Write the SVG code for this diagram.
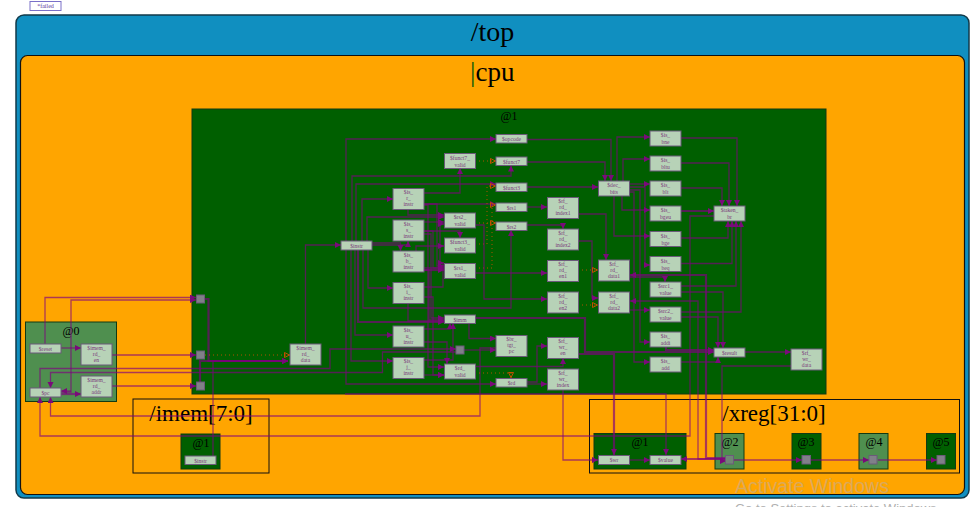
<svg xmlns="http://www.w3.org/2000/svg" width="976" height="507" viewBox="0 0 976 507">
<style>
text{font-family:"Liberation Serif","Times New Roman",serif;fill:#000}
.n rect{fill:#b7d2b7;stroke:#6b5a7a;stroke-width:1}
.n text{font-size:5.600px;fill:#7b3b7b;text-anchor:middle}
.g rect{fill:#808088;stroke:#6b5a7a;stroke-width:1}
.p{stroke:#123a12;stroke-width:1}
.l{text-anchor:middle}
#wires path{fill:none;stroke:#800080;stroke-opacity:.66;stroke-width:1.300;marker-end:url(#a)}
#wires path.t{stroke-width:2.200}
#wires path.d{stroke:#c05000;stroke-opacity:.9;stroke-width:1;stroke-dasharray:1 3;marker-end:url(#h)}
</style>
<defs>
<marker id="a" markerUnits="userSpaceOnUse" markerWidth="7" markerHeight="7" refX="6" refY="3" orient="auto"><path d="M0 0L6 3L0 6z" fill="#7a0a7a" stroke="none"/></marker>
<marker id="h" markerUnits="userSpaceOnUse" markerWidth="7" markerHeight="7" refX="6" refY="3" orient="auto"><path d="M.5 .5L5.500 3L.5 5.500z" fill="none" stroke="#c05000" stroke-width="1"/></marker>
</defs>
<rect width="976" height="507" fill="#fff"/>
<g id="failed"><rect x="30" y="1.500" width="31" height="9" fill="#fff" stroke="#7a70c8"/><text x="45.500" y="8" font-size="6" text-anchor="middle" style="fill:#5a3aa0">*failed</text></g>
<g id="scope-top"><rect x="16" y="15" width="953" height="483" rx="8" fill="#108fc0" stroke="#123a4a" stroke-width="1.500"/><text class="l" x="492.500" y="41" font-size="28">/top</text></g>
<g id="scope-cpu"><rect x="20.500" y="55.500" width="944" height="439" rx="7" fill="#ffa500" stroke="#111" stroke-width="1.200"/><text x="470" y="81" font-size="27"><tspan style="fill:#0a5a0a">|</tspan>cpu</text></g>
<g id="stage-1"><rect class="p" x="192" y="109" width="634" height="285" fill="#005f00"/><text class="l" x="509" y="120" font-size="12">@1</text></g>
<g id="stage-0"><rect class="p" x="25.500" y="322" width="91" height="79.500" fill="#4f8f4f"/><text class="l" x="71" y="335" font-size="12">@0</text></g>
<g id="imem"><rect x="133" y="399" width="136" height="74" fill="none" stroke="#111"/><text class="l" x="201" y="421" font-size="23">/imem[7:0]</text><rect class="p" x="181" y="434" width="39" height="35" fill="#005f00"/><text class="l" x="201" y="447" font-size="12">@1</text></g>
<g id="xreg"><rect x="589.500" y="399.500" width="370" height="73.500" fill="none" stroke="#111"/><text class="l" x="774" y="421" font-size="23">/xreg[31:0]</text>
<rect class="p" x="594" y="433.500" width="92" height="35.500" fill="#005f00"/><text class="l" x="640" y="446" font-size="12">@1</text>
<rect class="p" x="715" y="433.500" width="29" height="35.500" fill="#4f8f4f"/><text class="l" x="730" y="446" font-size="12">@2</text>
<rect class="p" x="792" y="433.500" width="29" height="35.500" fill="#005f00"/><text class="l" x="806" y="446" font-size="12">@3</text>
<rect class="p" x="859" y="433.500" width="29" height="35.500" fill="#4f8f4f"/><text class="l" x="874" y="446" font-size="12">@4</text>
<rect class="p" x="926.500" y="433.500" width="29" height="35.500" fill="#005f00"/><text class="l" x="941" y="446" font-size="12">@5</text></g>
<g id="wires">
<path d="M45 344V297.500H196"/><path d="M61 392H71V300H196"/><path d="M61 348H81"/><path d="M61 394H81" class="t"/><path d="M71 391H61"/>
<path d="M112 355H196"/><path d="M112 386H196"/><path d="M205 299H208.500V361H288" class="t"/><path d="M200 382V361H288" class="t"/><path d="M213 456V361H288"/>
<path d="M205 355H290" class="d"/>
<path d="M40 388V368.500H330V349H456"/><path d="M456 352H382.500V372.500H50.500V388"/><path d="M496 348H480V416H50.500V397"/><path d="M714 216H690V436H40V397"/>
<path d="M305.500 344V245H341"/>
<path d="M346 241V139H496"/><path d="M352 241V176H511V165.500"/><path d="M356 241V184H496"/><path d="M362 241V199H393"/><path d="M367 241V217H444"/>
<path d="M372 243H400.500V251"/><path d="M372 245H408V241"/>
<path d="M368 250V288H393"/><path d="M355 250V335H393"/><path d="M351 250V361H393"/><path d="M363 250V308H511V230"/><path d="M346 250V384H496"/><path d="M358 250V322H444" class="t"/>
<path d="M424 204H496"/><path d="M424 193H460V168"/><path d="M408 210V215H444"/>
<path d="M424 204H437V266H444"/><path d="M424 205H428V367H444"/><path d="M424 222H444"/><path d="M424 231H460V238"/><path d="M424 231H433V268H444"/><path d="M424 234H431V318H444"/>
<path d="M424 268H440V224H444"/><path d="M424 270H444" class="t"/><path d="M424 270H429V320H444"/><path d="M416 251V246H444"/>
<path d="M424 287H443V263H444"/><path d="M424 297H433V375H444"/><path d="M408 303V321H444"/>
<path d="M424 329H450V323"/><path d="M424 360H453V323"/><path d="M424 342H447V364"/><path d="M424 375H444"/>
<path d="M469 323V338.500H496"/><path d="M464 350H496"/><path d="M475 366.500H563V358"/><path d="M527 382H537V346H547"/><path d="M527 384H547"/>
<path d="M475 161H496" class="d"/><path d="M475 223H496" class="d"/><path d="M475 244H487V186H496" class="d"/><path d="M475 268H492V205H496" class="d"/><path d="M475 373H511V378" class="d"/>
<path d="M527 207H547"/><path d="M527 225H563V229"/><path d="M475 273H547"/><path d="M475 225H484V299H547"/>
<path d="M527 139.500H611V181"/><path d="M527 162H605V181"/><path d="M527 187H598"/>
<path d="M617 181V137H650"/><path d="M623 181V159H650"/><path d="M629 184H650"/><path d="M622 196V210H650"/><path d="M614 196V236H650"/><path d="M629 187H645V265H650"/><path d="M629 190H640V342H650"/><path d="M629 192H634V362H650"/>
<path d="M578 214H606V260"/><path d="M578 241H592V298H598"/><path d="M578 270H598" class="d"/><path d="M578 305H598" class="d"/>
<path d="M629 277H665V282"/><path d="M629 310H650"/>
<path d="M681 138H737V206"/><path d="M681 163H729V206"/><path d="M681 188H722V206"/><path d="M681 211H714" class="t"/><path d="M681 238H728V221"/><path d="M681 263.500H732V221"/><path d="M681 286H736V221"/><path d="M681 312H741V221"/>
<path d="M681 292H723V348"/><path d="M681 317H718V348"/><path d="M666 347V350H714" class="t"/><path d="M475 318H585V352H714" class="t"/><path d="M681 362H718V357"/><path d="M745 352H791"/>
<path d="M578 354H614V455" class="t"/><path d="M563 390V460H598"/><path d="M345 394H666V455"/>
<path d="M791 366H722V461H726"/><path d="M726 458H706V275H630" class="t"/><path d="M726 459H698V301H630"/><path d="M726 459H681" class="t"/>
<path d="M630 460H650"/><path d="M734 460H802"/><path d="M811 460H869"/><path d="M878 460H937"/>
</g>
<g id="n-reset" class="n"><rect x="30" y="344" width="31" height="9"/><text x="45.500" y="350.500">$reset</text></g>
<g id="n-imem-rd-en" class="n"><rect x="81" y="344" width="31" height="21"/><text><tspan x="96.500" y="349.500">$imem_</tspan><tspan x="96.500" y="355.500">rd_</tspan><tspan x="96.500" y="361.500">en</tspan></text></g>
<g id="n-imem-rd-addr" class="n"><rect x="81" y="376" width="31" height="21"/><text><tspan x="96.500" y="381.500">$imem_</tspan><tspan x="96.500" y="387.500">rd_</tspan><tspan x="96.500" y="393.500">addr</tspan></text></g>
<g id="n-pc" class="n"><rect x="30" y="388" width="31" height="9"/><text x="45.500" y="394.500">$pc</text></g>
<g id="n-imem-rd-data" class="n"><rect x="290" y="344" width="31" height="21"/><text><tspan x="305.500" y="349.500">$imem_</tspan><tspan x="305.500" y="355.500">rd_</tspan><tspan x="305.500" y="361.500">data</tspan></text></g>
<g id="g1" class="g"><rect x="196.500" y="295" width="8" height="8"/></g>
<g id="g2" class="g"><rect x="196.500" y="351" width="8" height="8"/></g>
<g id="g3" class="g"><rect x="196.500" y="382" width="8" height="8"/></g>
<g id="g4" class="g"><rect x="456" y="346" width="8" height="8"/></g>
<g id="n-instr" class="n"><rect x="341" y="241" width="31" height="9"/><text x="356.500" y="247.500">$instr</text></g>
<g id="n-opcode" class="n"><rect x="496" y="134.500" width="31" height="8.500"/><text x="511.500" y="141">$opcode</text></g>
<g id="n-funct7" class="n"><rect x="496" y="157" width="31" height="8.500"/><text x="511.500" y="163.500">$funct7</text></g>
<g id="n-funct3" class="n"><rect x="496" y="183" width="31" height="8.500"/><text x="511.500" y="189.500">$funct3</text></g>
<g id="n-rs1" class="n"><rect x="496" y="203" width="31" height="8.500"/><text x="511.500" y="209.500">$rs1</text></g>
<g id="n-rs2" class="n"><rect x="496" y="222" width="31" height="8.500"/><text x="511.500" y="228.500">$rs2</text></g>
<g id="n-rd" class="n"><rect x="496" y="378.500" width="31" height="8.500"/><text x="511.500" y="385">$rd</text></g>
<g id="n-funct7-valid" class="n"><rect x="444.500" y="153.500" width="31" height="15"/><text><tspan x="460" y="159.500">$funct7_</tspan><tspan x="460" y="166.500">valid</tspan></text></g>
<g id="n-rs2-valid" class="n"><rect x="444.500" y="213" width="31" height="15"/><text><tspan x="460" y="219">$rs2_</tspan><tspan x="460" y="226">valid</tspan></text></g>
<g id="n-funct3-valid" class="n"><rect x="444.500" y="238" width="31" height="15"/><text><tspan x="460" y="244">$funct3_</tspan><tspan x="460" y="251">valid</tspan></text></g>
<g id="n-rs1-valid" class="n"><rect x="444.500" y="263.500" width="31" height="15"/><text><tspan x="460" y="269.500">$rs1_</tspan><tspan x="460" y="276.500">valid</tspan></text></g>
<g id="n-rd-valid" class="n"><rect x="444.500" y="364" width="31" height="15"/><text><tspan x="460" y="370">$rd_</tspan><tspan x="460" y="377">valid</tspan></text></g>
<g id="n-imm" class="n"><rect x="444.500" y="315" width="31" height="8.500"/><text x="460" y="321.500">$imm</text></g>
<g id="n-is-r" class="n"><rect x="393" y="188.500" width="31" height="21"/><text><tspan x="408.500" y="194">$is_</tspan><tspan x="408.500" y="200">r_</tspan><tspan x="408.500" y="206">instr</tspan></text></g>
<g id="n-is-s" class="n"><rect x="393" y="220" width="31" height="21"/><text><tspan x="408.500" y="225.500">$is_</tspan><tspan x="408.500" y="231.500">s_</tspan><tspan x="408.500" y="237.500">instr</tspan></text></g>
<g id="n-is-b" class="n"><rect x="393" y="251" width="31" height="21"/><text><tspan x="408.500" y="256.500">$is_</tspan><tspan x="408.500" y="262.500">b_</tspan><tspan x="408.500" y="268.500">instr</tspan></text></g>
<g id="n-is-i" class="n"><rect x="393" y="282.500" width="31" height="21"/><text><tspan x="408.500" y="288">$is_</tspan><tspan x="408.500" y="294">i_</tspan><tspan x="408.500" y="300">instr</tspan></text></g>
<g id="n-is-u" class="n"><rect x="393" y="326" width="31" height="21"/><text><tspan x="408.500" y="331.500">$is_</tspan><tspan x="408.500" y="337.500">u_</tspan><tspan x="408.500" y="343.500">instr</tspan></text></g>
<g id="n-is-j" class="n"><rect x="393" y="357.500" width="31" height="21"/><text><tspan x="408.500" y="363">$is_</tspan><tspan x="408.500" y="369">j_</tspan><tspan x="408.500" y="375">instr</tspan></text></g>
<g id="n-br-tgt-pc" class="n"><rect x="496" y="335.500" width="31" height="21"/><text><tspan x="511.500" y="341">$br_</tspan><tspan x="511.500" y="347">tgt_</tspan><tspan x="511.500" y="353">pc</tspan></text></g>
<g id="n-rf-rd-index1" class="n"><rect x="547.500" y="197.500" width="31" height="21"/><text><tspan x="563" y="203">$rf_</tspan><tspan x="563" y="209">rd_</tspan><tspan x="563" y="215">index1</tspan></text></g>
<g id="n-rf-rd-index2" class="n"><rect x="547.500" y="229" width="31" height="21"/><text><tspan x="563" y="234.500">$rf_</tspan><tspan x="563" y="240.500">rd_</tspan><tspan x="563" y="246.500">index2</tspan></text></g>
<g id="n-rf-rd-en1" class="n"><rect x="547.500" y="260.500" width="31" height="21"/><text><tspan x="563" y="266">$rf_</tspan><tspan x="563" y="272">rd_</tspan><tspan x="563" y="278">en1</tspan></text></g>
<g id="n-rf-rd-en2" class="n"><rect x="547.500" y="292" width="31" height="21"/><text><tspan x="563" y="297.500">$rf_</tspan><tspan x="563" y="303.500">rd_</tspan><tspan x="563" y="309.500">en2</tspan></text></g>
<g id="n-rf-wr-en" class="n"><rect x="547.500" y="337.500" width="31" height="21"/><text><tspan x="563" y="343">$rf_</tspan><tspan x="563" y="349">wr_</tspan><tspan x="563" y="355">en</tspan></text></g>
<g id="n-rf-wr-index" class="n"><rect x="547.500" y="369" width="31" height="21"/><text><tspan x="563" y="374.500">$rf_</tspan><tspan x="563" y="380.500">wr_</tspan><tspan x="563" y="386.500">index</tspan></text></g>
<g id="n-dec-bits" class="n"><rect x="598.500" y="181" width="31" height="15"/><text><tspan x="614" y="187">$dec_</tspan><tspan x="614" y="194">bits</tspan></text></g>
<g id="n-rf-rd-data1" class="n"><rect x="598.500" y="260" width="31" height="21"/><text><tspan x="614" y="265.500">$rf_</tspan><tspan x="614" y="271.500">rd_</tspan><tspan x="614" y="277.500">data1</tspan></text></g>
<g id="n-rf-rd-data2" class="n"><rect x="598.500" y="292" width="31" height="21"/><text><tspan x="614" y="297.500">$rf_</tspan><tspan x="614" y="303.500">rd_</tspan><tspan x="614" y="309.500">data2</tspan></text></g>
<g id="n-is-bne" class="n"><rect x="650" y="131" width="31" height="15"/><text><tspan x="665.500" y="137">$is_</tspan><tspan x="665.500" y="144">bne</tspan></text></g>
<g id="n-is-bltu" class="n"><rect x="650" y="156" width="31" height="15"/><text><tspan x="665.500" y="162">$is_</tspan><tspan x="665.500" y="169">bltu</tspan></text></g>
<g id="n-is-blt" class="n"><rect x="650" y="181" width="31" height="15"/><text><tspan x="665.500" y="187">$is_</tspan><tspan x="665.500" y="194">blt</tspan></text></g>
<g id="n-is-bgeu" class="n"><rect x="650" y="206" width="31" height="15"/><text><tspan x="665.500" y="212">$is_</tspan><tspan x="665.500" y="219">bgeu</tspan></text></g>
<g id="n-is-bge" class="n"><rect x="650" y="231.500" width="31" height="15"/><text><tspan x="665.500" y="237.500">$is_</tspan><tspan x="665.500" y="244.500">bge</tspan></text></g>
<g id="n-is-beq" class="n"><rect x="650" y="256.500" width="31" height="15"/><text><tspan x="665.500" y="262.500">$is_</tspan><tspan x="665.500" y="269.500">beq</tspan></text></g>
<g id="n-src1-value" class="n"><rect x="650" y="282" width="31" height="15"/><text><tspan x="665.500" y="288">$src1_</tspan><tspan x="665.500" y="295">value</tspan></text></g>
<g id="n-src2-value" class="n"><rect x="650" y="307" width="31" height="15"/><text><tspan x="665.500" y="313">$src2_</tspan><tspan x="665.500" y="320">value</tspan></text></g>
<g id="n-is-addi" class="n"><rect x="650" y="332" width="31" height="15"/><text><tspan x="665.500" y="338">$is_</tspan><tspan x="665.500" y="345">addi</tspan></text></g>
<g id="n-is-add" class="n"><rect x="650" y="357" width="31" height="15"/><text><tspan x="665.500" y="363">$is_</tspan><tspan x="665.500" y="370">add</tspan></text></g>
<g id="n-taken-br" class="n"><rect x="714" y="206" width="31" height="15"/><text><tspan x="729.500" y="212">$taken_</tspan><tspan x="729.500" y="219">br</tspan></text></g>
<g id="n-result" class="n"><rect x="714" y="348" width="31" height="9"/><text x="729.500" y="354.500">$result</text></g>
<g id="n-rf-wr-data" class="n"><rect x="791" y="349" width="31" height="21"/><text><tspan x="806.500" y="354.500">$rf_</tspan><tspan x="806.500" y="360.500">wr_</tspan><tspan x="806.500" y="366.500">data</tspan></text></g>
<g id="n-imem-instr" class="n"><rect x="185" y="456" width="31" height="8.500"/><text x="200.500" y="462.500">$instr</text></g>
<g id="n-wr" class="n"><rect x="598.500" y="455.500" width="31" height="9"/><text x="614" y="462">$wr</text></g>
<g id="n-value" class="n"><rect x="650" y="455.500" width="31" height="9"/><text x="665.500" y="462">$value</text></g>
<g id="g5" class="g"><rect x="725.500" y="455.500" width="8" height="8.500" fill-opacity=".7"/></g>
<g id="g6" class="g"><rect x="802" y="455.500" width="8.500" height="8.500"/></g>
<g id="g7" class="g"><rect x="869" y="455.500" width="8" height="8.500"/></g>
<g id="g8" class="g"><rect x="937" y="455.500" width="8" height="8.500"/></g>
<text x="735" y="493" font-size="19.500" style="font-family:'Liberation Sans',sans-serif;fill:#dba95a">Activate Windows</text>
<text x="735" y="513" font-size="13" style="font-family:'Liberation Sans',sans-serif;fill:#b0b0b0">Go to Settings to activate Windows.</text>
</svg>
